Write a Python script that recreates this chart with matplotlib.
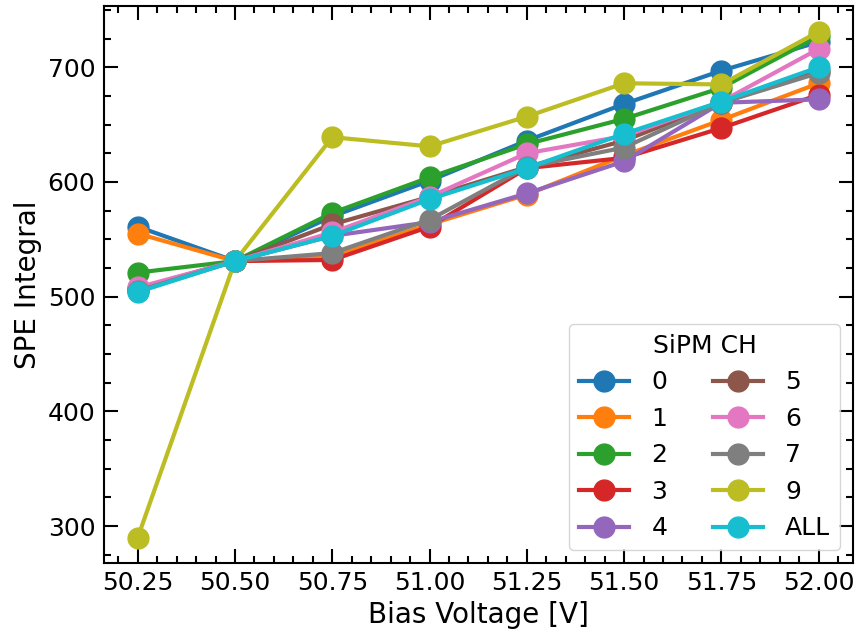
import matplotlib
matplotlib.use("Agg")
import matplotlib.pyplot as plt
from matplotlib.ticker import MultipleLocator

bias_voltage = [50.25, 50.50, 50.75, 51.00, 51.25, 51.50, 51.75, 52.00]

channels = ["0", "1", "2", "3", "4", "5", "6", "7", "9", "ALL"]

spe_ch0 = [561, 531, 570, 601, 636, 668, 697, 722]
spe_ch1 = [555, 531, 535, 563, 589, 623, 654, 686]
spe_ch2 = [521, 531, 573, 604, 633, 655, 682, 727]
spe_ch3 = [506, 531, 532, 561, 612, 621, 647, 676]
spe_ch4 = [507, 531, 553, 565, 590, 618, 669, 672]
spe_ch5 = [507, 531, 563, 587, 613, 636, 669, 697]
spe_ch6 = [508, 531, 556, 587, 625, 640, 670, 716]
spe_ch7 = [505, 531, 538, 567, 613, 630, 669, 695]
spe_ch9 = [290, 531, 639, 631, 657, 686, 685, 731]
spe_all = [504, 531, 553, 585, 612, 642, 670, 700]

series = [spe_ch0, spe_ch1, spe_ch2, spe_ch3, spe_ch4,
          spe_ch5, spe_ch6, spe_ch7, spe_ch9, spe_all]
colors = ["tab:blue", "tab:orange", "tab:green", "tab:red", "tab:purple",
          "tab:brown", "tab:pink", "tab:gray", "tab:olive", "tab:cyan"]

fig, ax = plt.subplots(figsize=(8.57, 6.36), dpi=100)

for name, vals, c in zip(channels, series, colors):
    ax.plot(bias_voltage, vals, "-o", color=c, lw=3, ms=15, label=name)

ax.set_xlabel("Bias Voltage [V]", fontsize=20, labelpad=4)
ax.set_ylabel("SPE Integral", fontsize=20, labelpad=4)

ax.xaxis.set_major_locator(MultipleLocator(0.25))
ax.xaxis.set_minor_locator(MultipleLocator(0.05))
ax.yaxis.set_major_locator(MultipleLocator(100))
ax.yaxis.set_minor_locator(MultipleLocator(25))
ax.set_xticks(bias_voltage)
ax.set_xticklabels([f"{v:.2f}" for v in bias_voltage])

ax.tick_params(which="both", direction="in", top=True, right=True,
               labelsize=18, width=1.5)
ax.tick_params(which="major", length=10, pad=6)
ax.tick_params(which="minor", length=5)
for sp in ax.spines.values():
    sp.set_linewidth(1.5)

leg = ax.legend(title="SiPM CH", ncol=2, loc="lower right", fontsize=18,
                title_fontsize=18, columnspacing=1.8, handletextpad=0.9)

fig.subplots_adjust(left=0.121, right=0.995, top=0.99, bottom=0.115)
fig.savefig("out.png", dpi=100)
